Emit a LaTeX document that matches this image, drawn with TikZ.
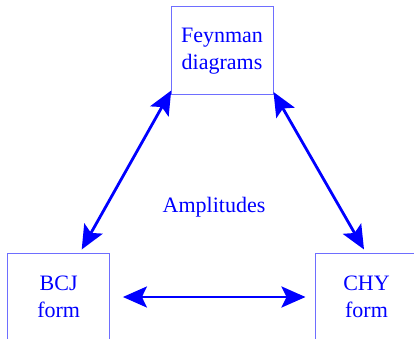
\documentclass[tikz,border=0pt]{standalone}
\usepackage{fontspec}
\setmainfont{Liberation Serif}
\usetikzlibrary{arrows.meta}
\definecolor{boxline}{RGB}{110,110,255}
\tikzset{
  formbox/.style={draw=boxline,line width=1pt,text=blue,align=center,
    minimum width=102pt,minimum height=88pt,font=\fontsize{22}{27}\selectfont},
  link/.style={blue,line width=2.8pt,
    {Stealth[length=24pt,width=21pt,inset=5pt]}-{Stealth[length=24pt,width=21pt,inset=5pt]}}
}
\begin{document}
\begin{tikzpicture}[x=1pt,y=-1pt]
\useasboundingbox (0,0) rectangle (414,339);

\node[formbox] (feyn) at (222,51) {Feynman\\diagrams};
\node[formbox] (bcj) at (58.7,297) {BCJ\\form};
\node[formbox] (chy) at (366.5,297) {CHY\\form};
\node[text=blue,font=\fontsize{22}{27}\selectfont] (amp) at (214,207) {Amplitudes};

\draw[link] ([shift={(0.7,-5)}]feyn.south west) -- ([shift={(23,-3)}]bcj.north);
\draw[link] ([shift={(0,-3.5)}]feyn.south east) -- ([shift={(-2.5,-3)}]chy.north);
\draw[link] ([shift={(12.7,0)}]bcj.east) -- ([shift={(-9.5,0)}]chy.west);
\end{tikzpicture}
\end{document}
